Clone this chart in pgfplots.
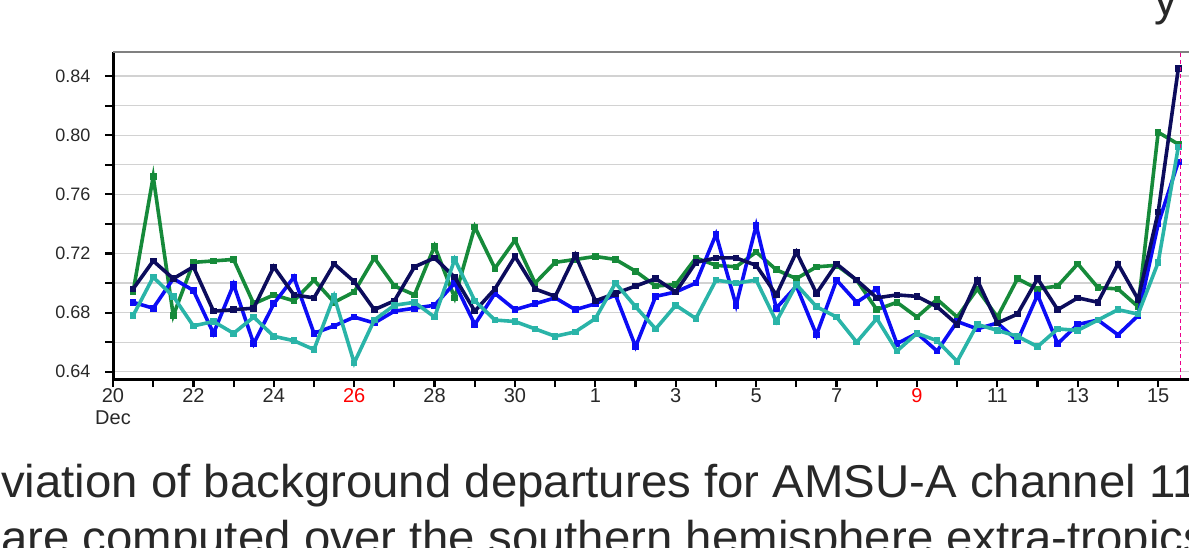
\documentclass[border=0pt]{standalone}
\usepackage{pgfplots}
\usepackage{pgfplotstable}
\pgfplotsset{compat=1.18}
\usepackage{fontspec}
\setmainfont{Liberation Sans}
\definecolor{cgreen}{RGB}{22,138,58}
\definecolor{cnavy}{RGB}{12,12,92}
\definecolor{cblue}{RGB}{12,12,245}
\definecolor{cteal}{RGB}{42,180,168}
\definecolor{cgrid}{RGB}{210,210,210}
\definecolor{ctext}{RGB}{40,40,40}
\pgfplotstableread{
d g n b t
20.5 0.694 0.696 0.687 0.678
21.0 0.772 0.715 0.683 0.704
21.5 0.678 0.703 0.703 0.691
22.0 0.714 0.711 0.695 0.671
22.5 0.715 0.681 0.666 0.674
23.0 0.716 0.682 0.699 0.666
23.5 0.686 0.683 0.659 0.677
24.0 0.692 0.711 0.686 0.664
24.5 0.688 0.692 0.704 0.661
25.0 0.702 0.690 0.666 0.655
25.5 0.687 0.713 0.671 0.691
26.0 0.694 0.701 0.677 0.646
26.5 0.717 0.682 0.673 0.675
27.0 0.698 0.688 0.681 0.685
27.5 0.692 0.711 0.683 0.687
28.0 0.725 0.717 0.685 0.677
28.5 0.690 0.704 0.700 0.716
29.0 0.738 0.681 0.672 0.688
29.5 0.710 0.696 0.693 0.675
30.0 0.729 0.718 0.682 0.674
30.5 0.700 0.696 0.686 0.669
31.0 0.714 0.691 0.690 0.664
31.5 0.716 0.719 0.682 0.667
32.0 0.718 0.688 0.686 0.676
32.5 0.716 0.693 0.692 0.700
33.0 0.708 0.698 0.657 0.684
33.5 0.698 0.703 0.691 0.669
34.0 0.699 0.694 0.694 0.685
34.5 0.717 0.714 0.700 0.676
35.0 0.712 0.717 0.733 0.702
35.5 0.711 0.717 0.685 0.700
36.0 0.721 0.712 0.739 0.702
36.5 0.709 0.692 0.683 0.674
37.0 0.703 0.721 0.698 0.699
37.5 0.711 0.693 0.665 0.684
38.0 0.712 0.713 0.702 0.677
38.5 0.702 0.702 0.687 0.660
39.0 0.682 0.690 0.696 0.676
39.5 0.687 0.692 0.659 0.654
40.0 0.677 0.691 0.666 0.666
40.5 0.689 0.684 0.654 0.661
41.0 0.677 0.672 0.674 0.647
41.5 0.696 0.702 0.669 0.672
42.0 0.677 0.673 0.673 0.668
42.5 0.703 0.679 0.661 0.664
43.0 0.696 0.703 0.692 0.657
43.5 0.698 0.682 0.659 0.669
44.0 0.713 0.690 0.672 0.668
44.5 0.697 0.687 0.675 0.675
45.0 0.696 0.713 0.665 0.682
45.5 0.684 0.689 0.678 0.679
46.0 0.802 0.748 0.740 0.714
46.5 0.794 0.845 0.782 0.792
}\datatable
\begin{document}
\begin{tikzpicture}[x=1pt,y=1pt]
\begin{axis}[
  at={(113pt,168pt)}, anchor=south west,
  scale only axis, width=1105.5pt, height=326.5pt,
  xmin=20, xmax=47.5, ymin=0.6351, ymax=0.856,
  clip mode=individual,
  axis line style={draw=none},
  xtick={20,22,24,26,28,30,32,34,36,38,40,42,44,46},
  minor xtick={21,23,25,27,29,31,33,35,37,39,41,43,45,47},
  xticklabels={20,22,24,\textcolor{red}{26},28,30,1,3,5,7,\textcolor{red}{9},11,13,15},
  ytick={0.64,0.68,0.72,0.76,0.80,0.84},
  minor ytick={0.66,0.70,0.74,0.78,0.82},
  yticklabels={0.64,0.68,0.72,0.76,0.80,0.84},
  xtick pos=bottom, ytick pos=left,
  ymajorgrids, yminorgrids,
  major grid style={draw=cgrid, line width=1.3pt},
  minor grid style={draw=cgrid, line width=1.3pt},
  tick align=outside,
  major tick length=8pt, minor tick length=8pt,
  every tick/.style={black, line width=2.2pt},
  every minor tick/.style={black, line width=2.2pt},
  ticklabel style={text=ctext},
  yticklabel style={font=\fontsize{18}{18}\selectfont, xshift=-11pt},
  xticklabel style={font=\fontsize{20}{20}\selectfont, yshift=2pt},
]
\addplot[cgreen, line width=3.6pt, mark=square*, mark size=1.5pt] table[x=d,y=g]{\datatable};
\addplot[cblue, line width=3.6pt, mark=square*, mark size=1.5pt] table[x=d,y=b]{\datatable};
\addplot[cnavy, line width=3.6pt, mark=square*, mark size=1.5pt] table[x=d,y=n]{\datatable};
\addplot[cteal, line width=3.6pt, mark=square*, mark size=1.5pt] table[x=d,y=t]{\datatable};
\draw[magenta, line width=1.4pt, dash pattern=on 4pt off 3pt] (axis cs:46.55,0.6351) -- (axis cs:46.55,0.856);
\draw[black, line width=3pt] (rel axis cs:0,1) -- (rel axis cs:0,0) -- (rel axis cs:1,0);
\draw[gray, line width=2pt] (rel axis cs:0,1) -- (rel axis cs:1,1);
\end{axis}
\node[font=\fontsize{20}{20}\selectfont, text=ctext] at (113,129) {Dec};
\node[anchor=base west, inner sep=0pt, xscale=1.03, font=\fontsize{46}{46}\selectfont, text=ctext] at (1,50) {viation of background departures for AMSU-A channel 11};
\node[anchor=base west, inner sep=0pt, xscale=1.03, font=\fontsize{46}{46}\selectfont, text=ctext] at (1,-6) {are computed over the southern hemisphere extra-tropics};
\node[anchor=base west, inner sep=0pt, font=\fontsize{46}{46}\selectfont, text=ctext] at (1154,531) {y};
\pgfresetboundingbox
\useasboundingbox (0,0) rectangle (1189,547);
\end{tikzpicture}
\end{document}
